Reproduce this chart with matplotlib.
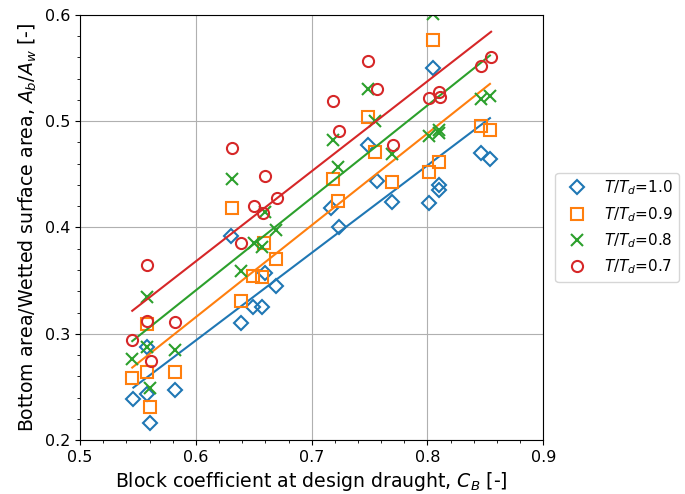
import numpy as np
import matplotlib
matplotlib.use("Agg")
import matplotlib.pyplot as plt
from matplotlib.ticker import MultipleLocator

# block coefficient / bottom-area ratio, one pair of arrays per draught ratio
cb_10 = [0.546, 0.558, 0.558, 0.560, 0.582, 0.630, 0.639, 0.649, 0.657, 0.660, 0.669,
         0.717, 0.724, 0.749, 0.756, 0.769, 0.801, 0.805, 0.810, 0.810, 0.846, 0.854]
ab_10 = [0.239, 0.288, 0.243, 0.216, 0.247, 0.392, 0.310, 0.325, 0.325, 0.357, 0.345,
         0.418, 0.400, 0.478, 0.444, 0.424, 0.423, 0.550, 0.440, 0.435, 0.470, 0.464]

cb_09 = [0.545, 0.558, 0.558, 0.560, 0.582, 0.631, 0.639, 0.649, 0.657, 0.659, 0.669,
         0.718, 0.723, 0.749, 0.755, 0.769, 0.801, 0.805, 0.810, 0.846, 0.854]
ab_09 = [0.258, 0.309, 0.264, 0.231, 0.264, 0.418, 0.331, 0.354, 0.353, 0.385, 0.370,
         0.446, 0.425, 0.504, 0.471, 0.443, 0.452, 0.576, 0.462, 0.495, 0.492]

cb_08 = [0.545, 0.558, 0.558, 0.560, 0.582, 0.631, 0.639, 0.650, 0.657, 0.660, 0.669,
         0.718, 0.723, 0.749, 0.755, 0.769, 0.801, 0.805, 0.810, 0.810, 0.846, 0.854]
ab_08 = [0.276, 0.335, 0.288, 0.249, 0.285, 0.446, 0.359, 0.385, 0.382, 0.415, 0.398,
         0.482, 0.457, 0.530, 0.500, 0.469, 0.486, 0.601, 0.492, 0.489, 0.521, 0.524]

cb_07 = [0.545, 0.558, 0.558, 0.561, 0.582, 0.631, 0.639, 0.650, 0.658, 0.660, 0.670,
         0.718, 0.724, 0.749, 0.756, 0.770, 0.801, 0.810, 0.811, 0.846, 0.855]
ab_07 = [0.294, 0.365, 0.312, 0.274, 0.311, 0.475, 0.385, 0.420, 0.414, 0.448, 0.428,
         0.519, 0.491, 0.557, 0.530, 0.478, 0.522, 0.527, 0.523, 0.552, 0.560]

series = [
    ("1.0", cb_10, ab_10, "D", "tab:blue"),
    ("0.9", cb_09, ab_09, "s", "tab:orange"),
    ("0.8", cb_08, ab_08, "x", "tab:green"),
    ("0.7", cb_07, ab_07, "o", "tab:red"),
]

fig = plt.figure(figsize=(6.85, 4.94), dpi=100)
ax = fig.add_axes([0.117, 0.109, 0.676, 0.861])

for ratio, xs, ys, mk, col in series:
    xs = np.array(xs)
    ys = np.array(ys)
    if mk == "x":
        ax.plot(xs, ys, ls="none", marker=mk, ms=8, mew=1.5, color=col,
                label=r"$T/T_d$=" + ratio)
    else:
        ax.plot(xs, ys, ls="none", marker=mk, ms=8 if mk != "D" else 7, mew=1.5,
                mfc="none", mec=col, label=r"$T/T_d$=" + ratio)
    # linear fit per draught ratio
    k, b = np.polyfit(xs, ys, 1)
    xl = np.linspace(xs.min(), xs.max(), 10)
    ax.plot(xl, k * xl + b, color=col, lw=1.5)

ax.set_xlim(0.5, 0.9)
ax.set_ylim(0.2, 0.6)
ax.xaxis.set_major_locator(MultipleLocator(0.1))
ax.yaxis.set_major_locator(MultipleLocator(0.1))
ax.xaxis.set_minor_locator(MultipleLocator(0.02))
ax.yaxis.set_minor_locator(MultipleLocator(0.02))
ax.grid(True, which="major", color="#b0b0b0", lw=0.8)
ax.tick_params(labelsize=11.5)
ax.set_xlabel(r"Block coefficient at design draught, $C_B$ [-]", fontsize=13.6)
ax.set_ylabel(r"Bottom area/Wetted surface area, $A_b/A_w$ [-]", fontsize=13.6)

ax.legend(loc="center left", bbox_to_anchor=(1.01, 0.5), fontsize=11)

fig.savefig("out.png", dpi=100)
